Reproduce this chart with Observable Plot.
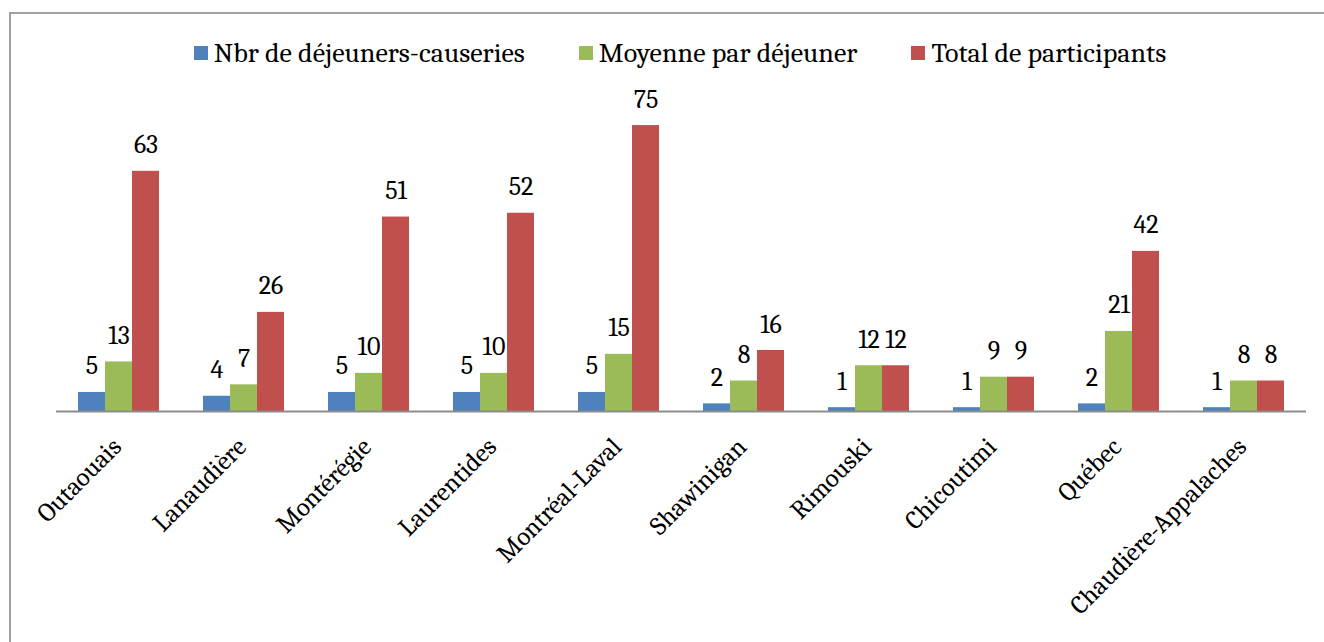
<!DOCTYPE html>
<html>
<head>
<meta charset="utf-8">
<script src="https://cdn.jsdelivr.net/npm/d3@7"></script>
<script src="https://cdn.jsdelivr.net/npm/@observablehq/plot@0.6"></script>
<style>
  html, body { margin: 0; padding: 0; background: #fff; overflow: hidden; }
  body { width: 1324px; height: 642px; position: relative; font-family: Cambria, Caladea, "Liberation Serif", "DejaVu Serif", serif; }
  #frame { position: absolute; left: 9px; top: 12px; width: 1400px; height: 700px; border-top: 2px solid #a0a0a0; border-left: 2px solid #a0a0a0; }
  #legend { position: absolute; left: 18px; top: 36px; width: 1324px; display: flex; justify-content: center; font-size: 28px; line-height: 34px; color: #000; }
  .item { display: flex; align-items: center; margin: 0 27px; }
  .sw { width: 14px; height: 14px; margin-right: 6px; }
  #chart { position: absolute; left: 0; top: 0; }
</style>
</head>
<body>
<div id="frame"></div>
<div id="chart"></div>
<div id="legend"></div>
<script>
const categories = ["Outaouais", "Lanaudière", "Montérégie", "Laurentides", "Montréal-Laval", "Shawinigan", "Rimouski", "Chicoutimi", "Québec", "Chaudière-Appalaches"];
const seriesNames = ["Nbr de déjeuners-causeries", "Moyenne par déjeuner", "Total de participants"];
const seriesColors = ["#4F81BD", "#9BBB59", "#C0504D"];
const nbrDejeuners = [5, 4, 5, 5, 5, 2, 1, 1, 2, 1];
const moyenne = [13, 7, 10, 10, 15, 8, 12, 9, 21, 8];
const totalParticipants = [63, 26, 51, 52, 75, 16, 12, 9, 42, 8];

const seriesValues = [nbrDejeuners, moyenne, totalParticipants];
const data = [];
categories.forEach((c, i) => {
  seriesNames.forEach((s, j) => data.push({region: c, series: s, value: seriesValues[j][i]}));
});

const font = 'Cambria, Caladea, "Liberation Serif", "DejaVu Serif", serif';

const chart = Plot.plot({
  width: 1324,
  height: 642,
  marginTop: 106,
  marginBottom: 231,
  marginLeft: 56,
  marginRight: 18,
  style: {fontFamily: font, fontSize: "26px", color: "#000", background: "transparent"},
  fx: {domain: categories, padding: 0, label: null, axis: null},
  x: {domain: seriesNames, paddingInner: 0, paddingOuter: 0.755, axis: null},
  y: {domain: [0, 80], axis: null},
  color: {domain: seriesNames, range: seriesColors},
  marks: [
    Plot.barY(data, {fx: "region", x: "series", y: "value", fill: "series"}),
    Plot.text(data, {fx: "region", x: "series", y: "value", text: d => String(d.value), lineAnchor: "bottom", dy: -18, fontSize: 26, fill: "#000"}),
    Plot.ruleY([0], {stroke: "#8c8c8c", strokeWidth: 2}),
    Plot.axisFx({anchor: "bottom", tickRotate: -45, tickSize: 0, tickPadding: 31, fontSize: 26, label: null, fill: "#000", dx: -2})
  ]
});
document.getElementById("chart").appendChild(chart);

const legend = document.getElementById("legend");
seriesNames.forEach((s, j) => {
  const it = document.createElement("div");
  it.className = "item";
  const sw = document.createElement("div");
  sw.className = "sw";
  sw.style.background = seriesColors[j];
  const t = document.createElement("span");
  t.textContent = s;
  it.appendChild(sw); it.appendChild(t);
  legend.appendChild(it);
});
</script>
</body>
</html>
